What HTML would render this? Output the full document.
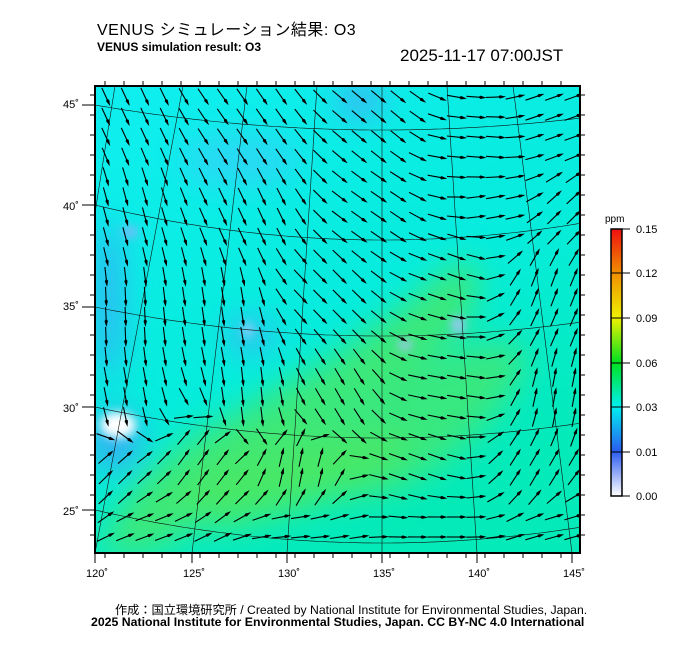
<!DOCTYPE html>
<html><head><meta charset="utf-8"><style>
body{margin:0;background:#fff;width:700px;height:649px;overflow:hidden;position:relative;font-family:"Liberation Sans","Noto Sans CJK JP",sans-serif}
.t{position:absolute;white-space:nowrap;color:#000}
</style></head><body>
<div class="t" style="left:97px;top:16px;font-size:16px;letter-spacing:0.5px">VENUS シミュレーション結果: O3</div>
<div class="t" style="left:97px;top:40px;font-size:12px;font-weight:bold">VENUS simulation result: O3</div>
<div class="t" style="left:400px;top:46px;font-size:17px">2025-11-17 07:00JST</div>
<div class="t" style="left:115px;top:600px;font-size:12.2px">作成：国立環境研究所 / Created by National Institute for Environmental Studies, Japan.</div>
<div class="t" style="left:91px;top:615px;font-size:12.3px;font-weight:bold">2025 National Institute for Environmental Studies, Japan. CC BY-NC 4.0 International</div>
<svg id="s" width="700" height="649" style="position:absolute;left:0;top:0" xmlns="http://www.w3.org/2000/svg">
<defs>
<clipPath id="c"><rect x="95" y="86" width="485" height="467"/></clipPath>
<filter id="b" x="-20%" y="-20%" width="140%" height="140%"><feGaussianBlur stdDeviation="16"/></filter>
<filter id="b2"><feGaussianBlur stdDeviation="5"/></filter>
<linearGradient id="bg" x1="0" y1="0" x2="0.5" y2="1"><stop offset="0" stop-color="#10eef0"/><stop offset="0.6" stop-color="#06ecdc"/><stop offset="1" stop-color="#04eab8"/></linearGradient>
<linearGradient id="cb" x1="0" y1="1" x2="0" y2="0">
<stop offset="0" stop-color="#ffffff"/><stop offset="0.167" stop-color="#2a5cf0"/><stop offset="0.333" stop-color="#00f0f0"/><stop offset="0.5" stop-color="#00e020"/><stop offset="0.667" stop-color="#f0f000"/><stop offset="0.833" stop-color="#f09000"/><stop offset="1" stop-color="#f01010"/></linearGradient>
</defs>
<g clip-path="url(#c)">
<rect x="95" y="86" width="485" height="467" fill="url(#bg)"/>
<g filter="url(#b)">
<polygon fill="#3ee878" points="100,545 140,480 190,440 260,400 330,360 400,310 460,260 480,270 470,320 430,360 380,400 330,440 270,480 210,520 150,553 100,553"/>
<polygon fill="#38e880" points="320,410 400,380 460,350 510,340 530,360 500,410 450,460 400,490 340,500 300,480"/>
<polygon fill="#46e868" points="170,500 220,460 300,440 380,430 420,440 380,480 300,510 220,530"/>
<ellipse cx="108" cy="300" rx="14" ry="80" fill="#30b4f4"/>
<ellipse cx="360" cy="100" rx="22" ry="18" fill="#40b0f4"/>
<ellipse cx="240" cy="160" rx="60" ry="25" fill="#2ad8f4"/>
<ellipse cx="250" cy="335" rx="25" ry="15" fill="#38b8f4"/>
<ellipse cx="115" cy="440" rx="25" ry="30" fill="#38acf4"/>
</g>
<g filter="url(#b2)">
<ellipse cx="118" cy="425" rx="18" ry="13" fill="#ffffff"/>
<ellipse cx="130" cy="232" rx="8" ry="5" fill="#90b0ff"/>
<ellipse cx="458" cy="325" rx="6" ry="9" fill="#b0c0ff"/>
<ellipse cx="405" cy="345" rx="7" ry="5" fill="#b0c0ff"/>
<ellipse cx="248" cy="330" rx="4" ry="7" fill="#c0ccff"/>
</g>
<g id="grid" stroke="#111" stroke-width="0.6" fill="none"></g>
<g id="arr"></g>
</g>
<rect x="95" y="86" width="485" height="467" fill="none" stroke="#000" stroke-width="2"/>
<g id="ax" stroke="#000" stroke-width="1"></g>
<g font-size="11" fill="#000" font-family="Liberation Sans, sans-serif">
<text x="63" y="108">45˚</text><text x="63" y="210">40˚</text><text x="63" y="310">35˚</text><text x="63" y="412">30˚</text><text x="63" y="515">25˚</text>
<text x="86" y="577">120˚</text><text x="183" y="577">125˚</text><text x="278" y="577">130˚</text><text x="373" y="577">135˚</text><text x="468" y="577">140˚</text><text x="563" y="577">145˚</text>
<text x="605" y="222" font-size="10">ppm</text>
<text x="636" y="233">0.15</text><text x="636" y="277">0.12</text><text x="636" y="322">0.09</text><text x="636" y="367">0.06</text><text x="636" y="411">0.03</text><text x="636" y="456">0.01</text><text x="636" y="500">0.00</text>
</g>
<rect x="611" y="229" width="11" height="267" fill="url(#cb)" stroke="#000" stroke-width="1.5"/>
<g stroke="#000" stroke-width="1">
<line x1="622" y1="229" x2="630" y2="229"/><line x1="611" y1="273" x2="630" y2="273"/><line x1="611" y1="318" x2="630" y2="318"/><line x1="611" y1="363" x2="630" y2="363"/><line x1="611" y1="407" x2="630" y2="407"/><line x1="611" y1="452" x2="630" y2="452"/><line x1="622" y1="496" x2="630" y2="496"/>
</g>
</svg>
<script>
var NS="http://www.w3.org/2000/svg";
function el(p,n,a){var e=document.createElementNS(NS,n);for(var k in a)e.setAttribute(k,a[k]);p.appendChild(e);return e;}
var g=document.getElementById('grid');
[[115,86,95,213],[183,86,95,553],[247,86,192,553],[317,86,287,553],[382,86,382,553],[447,86,477,553],[513,86,572,553]].forEach(function(l){el(g,'line',{x1:l[0],y1:l[1],x2:l[2],y2:l[3]});});
[[105,130],[205,240],[307,336],[407,438],[510,543]].forEach(function(p){var yl=p[0],yc=p[1],k=(yc-yl)/(287*287),d='';for(var x=90;x<=585;x+=5){var y=yc-k*(x-382)*(x-382);d+=(x==90?'M':'L')+x+','+y.toFixed(1);}el(g,'path',{d:d});});
var ax=document.getElementById('ax');
[105,205,307,407,510].forEach(function(y){el(ax,'line',{x1:82,y1:y,x2:95,y2:y});});
for(var y=95;y<553;y+=20)el(ax,'line',{x1:90,y1:y,x2:95,y2:y});
for(var y=95;y<553;y+=20)el(ax,'line',{x1:580,y1:y,x2:585,y2:y});
[95,192,287,382,477,572].forEach(function(x){el(ax,'line',{x1:x,y1:553,x2:x,y2:563});});
for(var x=105;x<580;x+=19){el(ax,'line',{x1:x,y1:553,x2:x,y2:558});el(ax,'line',{x1:x,y1:81,x2:x,y2:86});}
var C=[[120,110,65],[250,110,55],[380,120,40],[480,150,5],[560,120,-20],[120,220,75],[250,220,65],[380,220,35],[500,210,-10],[560,220,-45],
[120,320,88],[220,310,82],[330,290,45],[450,260,20],[550,280,-70],[130,400,80],[250,400,85],[340,400,60],[450,390,10],[560,400,-80],
[120,480,-45],[200,460,-55],[300,470,-80],[420,460,20],[540,470,-60],[150,530,-20],[300,535,-5],[450,535,0],[560,530,-15]];
var A=document.getElementById('arr');
for(var yy=97;yy<553;yy+=20)for(var xx=106;xx<580;xx+=19.5){
 var sx=0,sy=0;C.forEach(function(c){var d=(xx-c[0])*(xx-c[0])+(yy-c[1])*(yy-c[1])+400;var w=1/(d*d);var r=c[2]*Math.PI/180;sx+=w*Math.cos(r);sy+=w*Math.sin(r);});
 var a=Math.atan2(sy,sx),L=10,cx=Math.cos(a),cy=Math.sin(a);
 var x1=xx-cx*L,y1=yy-cy*L,x2=xx+cx*L,y2=yy+cy*L;
 var hx=x2-cx*6,hy=y2-cy*6;
 el(A,'line',{x1:x1.toFixed(1),y1:y1.toFixed(1),x2:hx.toFixed(1),y2:hy.toFixed(1),stroke:'#000','stroke-width':1.1});
 el(A,'polygon',{points:(hx-cx*2).toFixed(1)+','+(hy-cy*2).toFixed(1)+' '+(hx-cy*1.7).toFixed(1)+','+(hy+cx*1.7).toFixed(1)+' '+x2.toFixed(1)+','+y2.toFixed(1)+' '+(hx+cy*1.7).toFixed(1)+','+(hy-cx*1.7).toFixed(1),fill:'#000'});
}
</script>
</body></html>
